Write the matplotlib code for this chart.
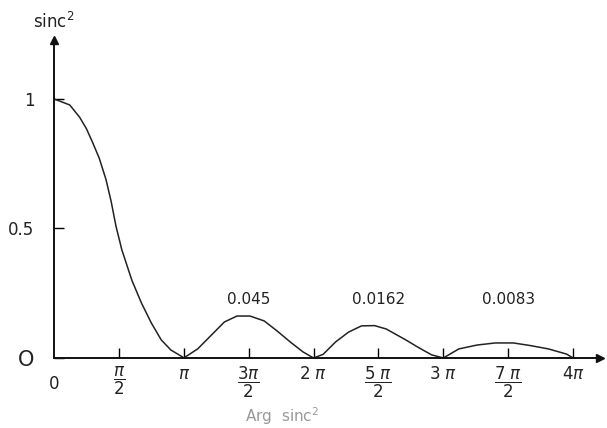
import matplotlib
matplotlib.use("Agg")
import matplotlib.pyplot as plt

# curve, x in units of pi
x_pi = [0, 0.023, 0.121, 0.197, 0.25, 0.295, 0.348, 0.40, 0.44, 0.477, 0.523,
        0.60, 0.674, 0.75, 0.826, 0.90, 0.99, 1.0,
        1.107, 1.206, 1.313, 1.41, 1.51, 1.62, 1.72, 1.82, 1.92, 2.0,
        2.074, 2.17, 2.27, 2.37, 2.47, 2.56, 2.71, 2.81, 2.91, 3.0,
        3.12, 3.26, 3.40, 3.54, 3.67, 3.81, 3.95, 4.0]
y_vals = [1.0, 0.996, 0.977, 0.93, 0.885, 0.835, 0.772, 0.69, 0.605, 0.51, 0.417,
          0.30, 0.212, 0.135, 0.07, 0.031, 0.004, 0.0,
          0.035, 0.085, 0.139, 0.162, 0.162, 0.143, 0.104, 0.062, 0.023, 0.0,
          0.014, 0.062, 0.10, 0.124, 0.125, 0.112, 0.07, 0.04, 0.012, 0.0,
          0.035, 0.05, 0.058, 0.058, 0.048, 0.035, 0.015, 0.0]

xtick_pos = [0.5, 1, 1.5, 2, 2.5, 3, 3.5, 4]
xtick_labels = [r'$\dfrac{\pi}{2}$', r'$\pi$', r'$\dfrac{3\pi}{2}$', r'$2\ \pi$',
                r'$\dfrac{5\ \pi}{2}$', r'$3\ \pi$', r'$\dfrac{7\ \pi}{2}$', r'$4\pi$']
ytick_pos = [0, 0.5, 1]
ytick_labels = ['O', '0.5', '1']

peak_x = [1.5, 2.5, 3.5]
peak_labels = ['0.045', '0.0162', '0.0083']

plt.rcParams['mathtext.fontset'] = 'dejavusans'

fig = plt.figure(figsize=(6.07, 4.28), dpi=100)
ax = fig.add_axes([0.089, 0.1636, 0.90, 0.743])

ax.plot(x_pi, y_vals, color='#222222', lw=1.1)

ax.set_xlim(0, 4.21)
ax.set_ylim(0, 1.228)
for s in ['top', 'right']:
    ax.spines[s].set_visible(False)
for s in ['left', 'bottom']:
    ax.spines[s].set_linewidth(1.4)
    ax.spines[s].set_color('#111111')

# arrow heads
ax.plot(1, 0, '>', color='#111111', ms=6, transform=ax.transAxes, clip_on=False)
ax.plot(0, 1, '^', color='#111111', ms=6, transform=ax.transAxes, clip_on=False)

ax.set_xticks(xtick_pos)
ax.set_xticklabels(xtick_labels, fontsize=12, color='#222222', va='top')
ax.set_yticks(ytick_pos)
ax.set_yticklabels(ytick_labels, fontsize=12, color='#222222')
ax.tick_params(axis='x', direction='in', length=7, width=1, pad=5)
ax.tick_params(axis='y', direction='in', length=7, width=1, pad=14)
ax.get_yticklabels()[0].set_fontsize(15)

ax.text(0, -0.1, '0', fontsize=12, color='#222222', ha='center', va='center')

for px, lab in zip(peak_x, peak_labels):
    ax.text(px, 0.225, lab, fontsize=11, color='#222222', ha='center', va='center')

fig.text(0.055, 0.948, r'sinc$^2$', fontsize=12, color='#222222', va='center')
fig.text(0.465, 0.028, r'Arg  sinc$^2$', fontsize=11, color='#999999', ha='center', va='center')

fig.savefig('out.png', dpi=100, facecolor='white')
